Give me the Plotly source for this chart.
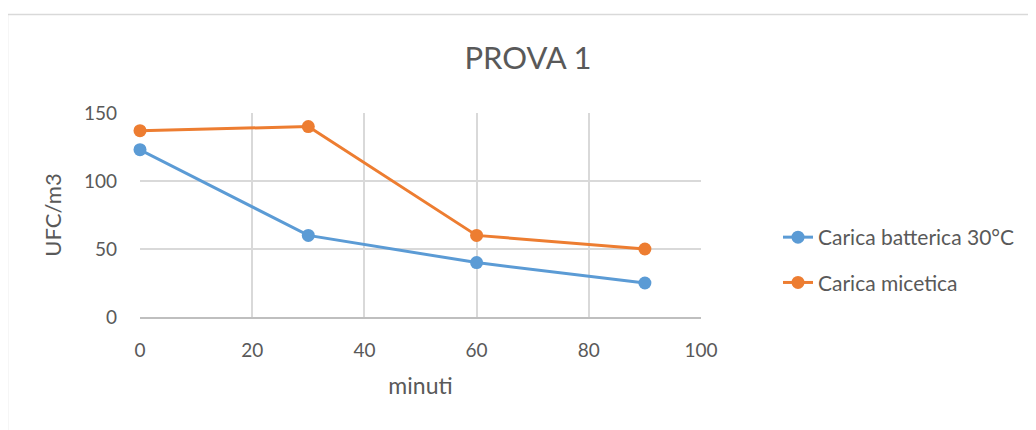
import plotly.graph_objects as go

minuti = [0, 30, 60, 90]
batterica = [123, 60, 40, 25]
micetica = [137, 140, 60, 50]
x_ticks = [0, 20, 40, 60, 80, 100]
y_ticks = [0, 50, 100, 150]

TXT = "#595959"
GRID = "#d9d9d9"
FONT = "Lato, 'Open Sans', sans-serif"

# page body has an 8px margin: work in screen pixels and offset
OFF = 8

fig = go.Figure()
fig.add_trace(go.Scatter(x=minuti, y=batterica, mode="lines+markers",
                         name="Carica batterica 30°C", legendgroup="a",
                         line=dict(color="#5b9bd5", width=3),
                         marker=dict(color="#5b9bd5", size=13),
                         cliponaxis=False))
fig.add_trace(go.Scatter(x=minuti, y=micetica, mode="lines+markers",
                         name="Carica micetica", legendgroup="b",
                         line=dict(color="#ed7d31", width=3),
                         marker=dict(color="#ed7d31", size=13),
                         cliponaxis=False))

L, T, R, B = 140 - OFF, 113 - OFF, 701 - OFF, 317 - OFF
W, H = 1036 - OFF, 430 - OFF
pw, ph = R - L, B - T

def px(x):
    return (x - OFF - L) / pw

def py(y):
    return (B - (y - OFF)) / ph

fig.update_layout(
    width=W, height=H,
    margin=dict(l=L, r=W - R, t=T, b=H - B, pad=0),
    paper_bgcolor="white", plot_bgcolor="white",
    font=dict(family=FONT, color=TXT, size=19),
    title=dict(text="PROVA 1", x=px(528), xref="paper", xanchor="center",
               y=1 - (58 - OFF) / H, yanchor="middle",
               font=dict(size=31, color=TXT, family=FONT)),
    xaxis=dict(range=[0, 100], tickvals=x_ticks, showgrid=True, gridcolor=GRID,
               gridwidth=1.5, zeroline=False, showline=True, linecolor="#bfbfbf",
               linewidth=2, ticks="", ticklabelstandoff=15,
               title=dict(text="minuti", standoff=18, font=dict(size=23, color=TXT))),
    yaxis=dict(range=[0, 150], tickvals=y_ticks, showgrid=True, gridcolor=GRID,
               gridwidth=1.5, zeroline=False, showline=False, ticks="",
               ticklabelstandoff=22,
               title=dict(text="UFC/m3", standoff=16, font=dict(size=22, color=TXT))),
    legend=dict(x=px(778), xanchor="left", y=py(260), yanchor="middle",
                font=dict(size=21, color=TXT), tracegroupgap=15,
                bgcolor="rgba(0,0,0,0)"),
    showlegend=True,
    shapes=[
        dict(type="line", xref="paper", yref="paper", x0=px(7.5), x1=px(1050),
             y0=py(14.5), y1=py(14.5), line=dict(color="#d9d9d9", width=1.5)),
        dict(type="line", xref="paper", yref="paper", x0=px(7.5), x1=px(7.5),
             y0=py(14.5), y1=py(445), line=dict(color="#d9d9d9", width=1.5)),
    ],
)

fig.write_html("out.html")
